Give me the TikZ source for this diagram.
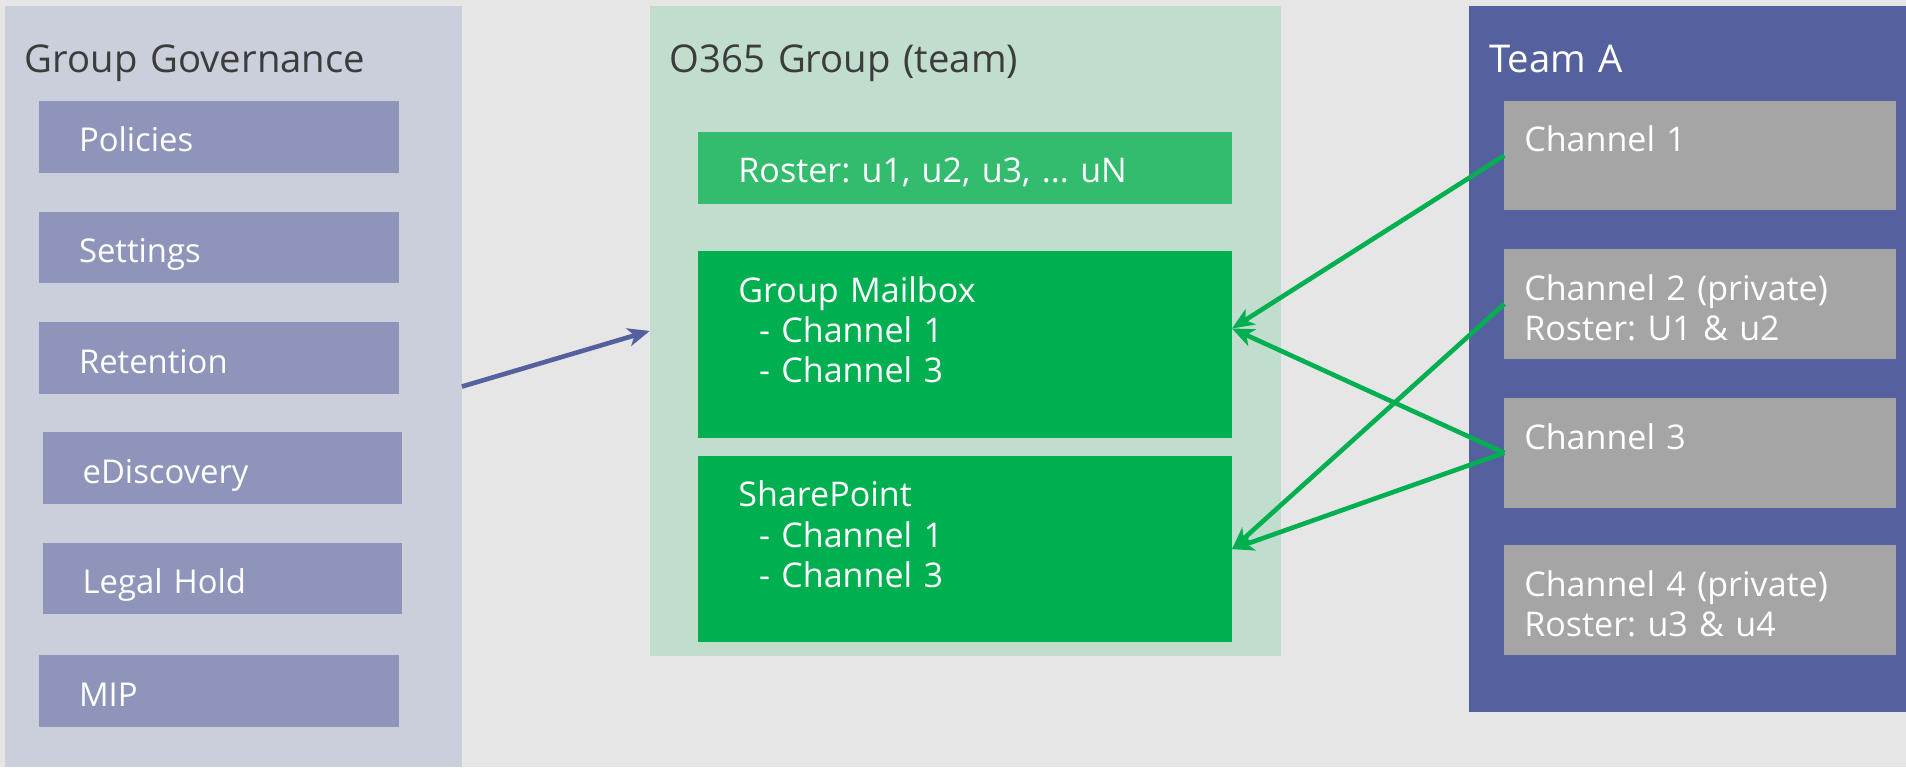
\documentclass[tikz,border=0pt]{standalone}
\usepackage{fontspec}
\setmainfont{Open Sans}
\usetikzlibrary{arrows.meta}
\frenchspacing

\definecolor{backgr}{HTML}{E6E6E6}
\definecolor{govpanel}{HTML}{CBCEDB}
\definecolor{govbox}{HTML}{8F95BA}
\definecolor{grppanel}{HTML}{C0DDCE}
\definecolor{rostergreen}{HTML}{33BC6E}
\definecolor{boxgreen}{HTML}{00AF50}
\definecolor{teamblue}{HTML}{55609F}
\definecolor{changray}{HTML}{A5A5A5}
\definecolor{titlegray}{HTML}{3C3C3C}

\begin{document}
\begin{tikzpicture}[x=1pt, y=-1pt,
    every node/.style={anchor=north west, inner ysep=0pt, outer sep=0pt, align=left, text=white},
    panel/.style={inner xsep=16.5pt, text height=55pt, font=\fontsize{31.5}{37}\selectfont},
    govitem/.style={fill=govbox, inner xsep=33pt, text width=230pt, text height=42pt, text depth=17pt, font=\fontsize{27}{33}\selectfont},
    grpitem/.style={fill=boxgreen, inner xsep=33pt, text width=373pt, text height=42pt, font=\fontsize{28}{33}\selectfont},
    chanitem/.style={fill=changray, inner xsep=16.5pt, text width=289.5pt, text height=42pt, text depth=48pt, font=\fontsize{28}{33}\selectfont},
    arr/.style={-{Stealth[length=18pt, width=15pt, inset=5pt]}, line width=3.8pt}
  ]
  \fill[backgr] (0,0) rectangle (1568,631);
  \useasboundingbox (0,0) rectangle (1568,631);

  % group governance
  \node[panel, fill=govpanel, text=titlegray, text width=343pt, text depth=571pt] (gov) at (4,5) {Group Governance};
  \node[govitem] (policies) at (32,83) {Policies};
  \node[govitem] (settings) at (32,174) {Settings};
  \node[govitem] (retention) at (32,265) {Retention};
  \node[govitem] (ediscovery) at (35,355.5) {eDiscovery};
  \node[govitem] (legalhold) at (35,446.5) {Legal Hold};
  \node[govitem] (mip) at (32,539) {MIP};

  % o365 group
  \node[panel, fill=grppanel, text=titlegray, text width=486pt, text depth=479.5pt] (grp) at (534.5,5) {O365 Group (team)};
  \node[grpitem, fill=rostergreen, text depth=17pt] (roster) at (574.5,108.5) {Roster: u1, u2, u3, ... uN};
  \node[grpitem, text depth=111.5pt] (mailbox) at (574.5,206.5) {Group Mailbox\\\hspace*{17pt}- Channel 1\\\hspace*{17pt}- Channel 3};
  \node[grpitem, text depth=111.5pt] (sharepoint) at (574.5,375) {SharePoint\\\hspace*{17pt}- Channel 1\\\hspace*{17pt}- Channel 3};

  % team
  \node[panel, fill=teamblue, text width=327pt, text depth=525.5pt] (team) at (1208.5,5) {Team A};
  \node[chanitem] (ch1) at (1237.5,83) {Channel 1};
  \node[chanitem] (ch2) at (1237.5,205) {Channel 2 (private)\\Roster: U1 \& u2};
  \node[chanitem] (ch3) at (1237.5,327.5) {Channel 3};
  \node[chanitem] (ch4) at (1237.5,448.5) {Channel 4 (private)\\Roster: u3 \& u4};

  \coordinate (mailin) at ([yshift=13pt]mailbox.east);

  \draw[arr, teamblue] (gov.east) -- (grp.west);
  \draw[arr, boxgreen] (ch1.west) -- (mailin);
  \draw[arr, boxgreen] (ch3.west) -- (mailin);
  \draw[arr, boxgreen] (ch2.west) -- (sharepoint.east);
  \draw[arr, boxgreen] (ch3.west) -- (sharepoint.east);
\end{tikzpicture}
\end{document}
